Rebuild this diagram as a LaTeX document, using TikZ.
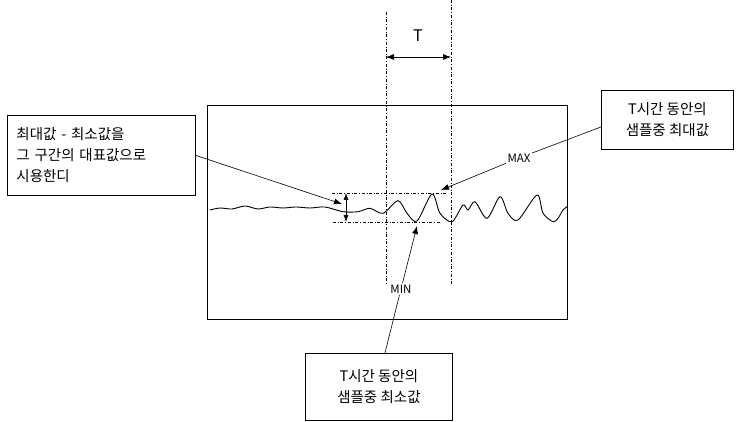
\documentclass[tikz,border=0pt]{standalone}
\usepackage{fontspec}
\setmainfont{Noto Sans CJK KR}
\usetikzlibrary{arrows.meta}
\begin{document}
\begin{tikzpicture}[x=1pt,y=-1pt,
    note/.style={draw,line width=0.9pt,inner sep=0pt,font=\fontsize{14.5}{21}\selectfont},
    guide/.style={dash dot,line width=0.6pt},
    pointer/.style={-{Latex[length=8pt,width=6pt]},line width=0.6pt},
    tag/.style={font=\fontsize{11.5}{12}\selectfont,inner sep=1.5pt}]
  \useasboundingbox (0,0) rectangle (737,422);
  % frame of the record
  \draw[line width=1pt] (207,106) rectangle (567,320);
  % window of length T
  \foreach \x/\y/\name in {386/12/wl,451/0/wr} {
    \coordinate (\name top) at (\x,\y);
    \coordinate (\name bot) at (\x,284);
    \draw[guide] (\name top) -- (\name bot);
  }
  \coordinate (tleft) at (386,57);
  \coordinate (tright) at (451,57);
  \draw[{Latex[length=8pt,width=6pt]}-{Latex[length=8pt,width=6pt]},line width=0.6pt] (tleft) -- (tright);
  \node[font=\fontsize{16}{16}\selectfont] (tlabel) at (418,36) {T};
  % signal
  \draw[line width=0.9pt] plot[smooth,tension=0.5] coordinates {
    (210,210) (220,208) (232,209) (245,206) (258,209) (270,207) (283,208)
    (296,207) (310,208) (325,207) (343,211.7) (358,211.7) (370,208.3)
    (383,213.3) (398,200.7) (407,213.3) (417,221) (432,194) (440,213.3)
    (452,221.7) (463,205) (468,210) (475,201.7) (487,218.3) (500,196.7)
    (508,213.3) (518,220) (537,195) (543,213.3) (553,221.7) (558,218.3)
    (563,210) (567,206.7)};
  % max / min levels
  \coordinate (maxl) at (332,193);
  \coordinate (maxr) at (447,193);
  \coordinate (minl) at (333,222);
  \coordinate (minr) at (440,222);
  \draw[guide] (maxl) -- (maxr);
  \draw[guide] (minl) -- (minr);
  \coordinate (rangetop) at (346,193);
  \coordinate (rangebot) at (346,222);
  \draw[{Latex[length=7pt,width=5pt]}-{Latex[length=7pt,width=5pt]},line width=0.6pt] (rangetop) -- (rangebot);
  % notes
  \node[note,anchor=north west,minimum width=188pt,minimum height=80pt,
        text width=170pt,align=left] (noteRange) at (7,115)
    {최대값 - 최소값을\\그 구간의 대표값으로\\시용한디};
  \node[note,anchor=north west,minimum width=132pt,minimum height=59pt,
        align=center] (noteMax) at (601,90)
    {T시간 동안의\\샘플중 최대값};
  \node[note,anchor=north west,minimum width=147pt,minimum height=67pt,
        align=center] (noteMin) at (305,353)
    {T시간 동안의\\샘플중 최소값};
  \node[tag] (maxtag) at (519,158) {MAX};
  \node[tag] (mintag) at (401,289) {MIN};
  \coordinate (rangetip) at (342,204);
  \coordinate (maxtip) at (441,190);
  \coordinate (mintip) at (417,226);
  \draw[pointer] (noteRange.east) -- (rangetip);
  \draw[pointer] ([yshift=-7pt]noteMax.west) -- (maxtag) -- (maxtip);
  \draw[pointer] ([xshift=6pt]noteMin.north) -- (mintag) -- (mintip);
\end{tikzpicture}
\end{document}
